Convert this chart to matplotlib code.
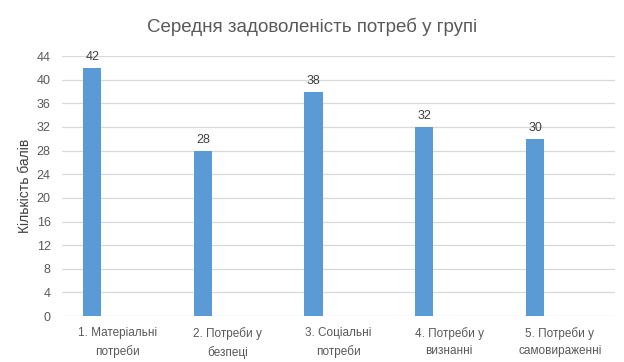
import matplotlib.pyplot as plt
import numpy as np

plt.rcParams['font.family'] = ['Liberation Sans', 'DejaVu Sans']

# Дані діаграми
categories = ["1. Матеріальні\nпотреби", "2. Потреби у\nбезпеці", "3. Соціальні\nпотреби",
              "4. Потреби у\nвизнанні", "5. Потреби у\nсамовираженні"]
values = [42, 28, 38, 32, 30]
y_ticks = list(range(0, 45, 4))

fig = plt.figure(figsize=(6.24, 3.62), dpi=100)
ax = fig.add_axes([0.099, 0.127, 0.887, 0.718])

x = np.arange(len(categories))
bars = ax.bar(x - 0.225, values, width=0.165, color="#5B9BD5", zorder=3)

for b, v in zip(bars, values):
    ax.text(b.get_x() + b.get_width() / 2, v + 0.8, str(v), ha="center", va="bottom",
            fontsize=9, color="#404040")

ax.set_xlim(-0.5, len(categories) - 0.5)
ax.set_ylim(0, 44)
ax.set_yticks(y_ticks)
ax.set_xticks(x)
ax.set_xticklabels(categories, fontsize=8.5, color="#595959", linespacing=1.6)
ax.tick_params(axis="y", labelsize=9, labelcolor="#595959", length=0, pad=8)
ax.tick_params(axis="x", length=0, pad=8)
ax.grid(axis="y", color="#D9D9D9", linewidth=0.9, zorder=0)
for s in ax.spines.values():
    s.set_visible(False)

ax.set_ylabel("Кількість балів", fontsize=10, color="#404040", labelpad=3)
fig.text(0.5, 0.925, "Середня задоволеність потреб у групі", ha="center", va="center",
         fontsize=13.5, color="#595959")

fig.savefig("out.png", dpi=100)
